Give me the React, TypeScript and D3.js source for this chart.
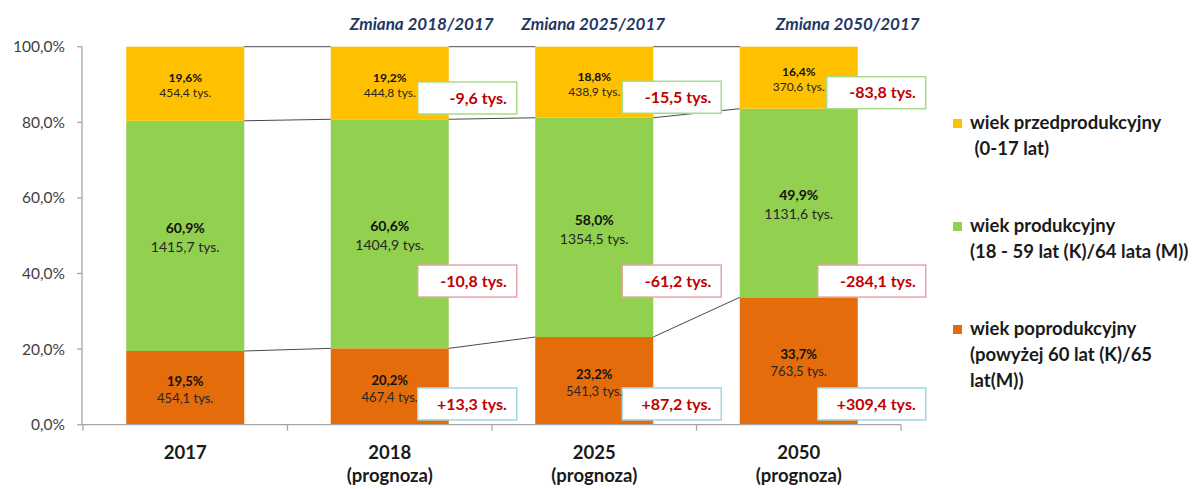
import React from "react";
import * as d3 from "d3";

const categories = ["2017", "2018", "2025", "2050"];
const subLabels = ["", "(prognoza)", "(prognoza)", "(prognoza)"];
const headers = ["", "Zmiana 2018/2017", "Zmiana 2025/2017", "Zmiana 2050/2017"];

// percentages (bottom -> top)
const postProdPct = [19.5, 20.2, 23.2, 33.7];
const prodPct = [60.9, 60.6, 58.0, 49.9];
const preProdPct = [19.6, 19.2, 18.8, 16.4];

// thousands of people
const postProdThous = [454.1, 467.4, 541.3, 763.5];
const prodThous = [1415.7, 1404.9, 1354.5, 1131.6];
const preProdThous = [454.4, 444.8, 438.9, 370.6];

// change vs 2017 (thousands)
const postProdChange = [null, 13.3, 87.2, 309.4];
const prodChange = [null, -10.8, -61.2, -284.1];
const preProdChange = [null, -9.6, -15.5, -83.8];

const yTicks = [0, 20, 40, 60, 80, 100];

const legendLines = [
  ["wiek przedprodukcyjny", " (0-17 lat)"],
  ["wiek produkcyjny", "(18 - 59 lat (K)/64 lata (M))"],
  ["wiek poprodukcyjny", "(powyżej 60 lat (K)/65", "lat(M))"],
];

const W = 1204;
const H = 489;
const FONT = "Lato, 'Open Sans', sans-serif";

const COLORS = { post: "#e46c0a", prod: "#92d050", pre: "#ffc000" };
const BORDERS = { post: "#9fd9e8", prod: "#e6a3a8", pre: "#a9dc85" };
const headerDx = [0, 32, -1, 49];

const fmt1 = (v: number) => d3.format(".1f")(v).replace(".", ",");
const fmtChange = (v: number) => (v > 0 ? "+" : "") + fmt1(v).replace("−", "-") + " tys.";

export default function App() {
  const x = d3
    .scaleBand<string>()
    .domain(categories)
    .range([83, 901])
    .paddingInner(0.423)
    .paddingOuter(0.2115);
  const y = d3.scaleLinear().domain([0, 100]).range([424.7, 46.7]);
  const bw = x.bandwidth();
  const step = x.step();

  const series = [
    { key: "post", pct: postProdPct, thous: postProdThous, change: postProdChange, fs: 13, gap: 17 },
    { key: "prod", pct: prodPct, thous: prodThous, change: prodChange, fs: 14, gap: 19 },
    { key: "pre", pct: preProdPct, thous: preProdThous, change: preProdChange, fs: 12, gap: 15 },
  ] as const;

  const stackRows = categories.map((c, i) => ({
    cat: c,
    post: postProdPct[i],
    prod: prodPct[i],
    pre: preProdPct[i],
  }));
  const stacked = d3.stack<any>().keys(["post", "prod", "pre"])(stackRows);

  const boxCenterY: Record<string, (i: number) => number> = {
    post: () => y(5.5),
    prod: () => y(38),
    pre: (i) => (y(stacked[2][i][0]) + y(stacked[2][i][1])) / 2 + 15,
  };

  return (
    <div style={{ position: "fixed", left: 0, top: 0 }}>
      <svg width={W} height={H} style={{ display: "block", background: "#fff" }} fontFamily={FONT}>
        {/* bars */}
        {stacked.map((s, si) =>
          s.map((d, i) => (
            <rect
              key={`${si}-${i}`}
              x={x(categories[i])!}
              y={y(d[1])}
              width={bw}
              height={y(d[0]) - y(d[1])}
              fill={(COLORS as any)[s.key]}
            />
          ))
        )}

        {/* series lines */}
        {stacked.map((s, si) =>
          s.slice(0, -1).map((d, i) => (
            <line
              key={`sl-${si}-${i}`}
              x1={x(categories[i])! + bw}
              y1={y(d[1])}
              x2={x(categories[i + 1])!}
              y2={y(s[i + 1][1])}
              stroke="#4a4a4a"
              strokeWidth={1}
            />
          ))
        )}

        {/* axes */}
        <line x1={82} x2={82} y1={y(100)} y2={y(0)} stroke="#a6a6a6" strokeWidth={1.3} />
        <line x1={82} x2={901} y1={y(0)} y2={y(0)} stroke="#a6a6a6" strokeWidth={1.3} />
        {yTicks.map((t) => (
          <g key={t}>
            <line x1={77} x2={82} y1={y(t)} y2={y(t)} stroke="#a6a6a6" strokeWidth={1.3} />
            <text x={65} y={y(t)} dy="0.35em" textAnchor="end" fontSize={15.5} fill="#404040">
              {fmt1(t) + "%"}
            </text>
          </g>
        ))}
        {d3.range(categories.length + 1).map((k) => {
          const xx = 83 + k * step;
          return <line key={k} x1={xx} x2={xx} y1={y(0)} y2={y(0) + 6} stroke="#a6a6a6" strokeWidth={1.3} />;
        })}
        {categories.map((c, i) => (
          <g key={c}>
            <text x={x(c)! + bw / 2} y={459} textAnchor="middle" fontSize={18.5} fontWeight="bold" fill="#1a1a1a">
              {c}
            </text>
            {subLabels[i] && (
              <text x={x(c)! + bw / 2} y={482} textAnchor="middle" fontSize={18.5} fontWeight="bold" fill="#1a1a1a">
                {subLabels[i]}
              </text>
            )}
          </g>
        ))}

        {/* headers */}
        {categories.map((c, i) =>
          headers[i] ? (
            <text
              key={`h-${c}`}
              x={x(c)! + bw / 2 + headerDx[i]}
              y={30}
              textAnchor="middle"
              fontSize={17}
              fontWeight="bold"
              fontStyle="italic"
              fill="#1f3864"
            >
              {headers[i]}
            </text>
          ) : null
        )}

        {/* segment labels */}
        {series.map((s, si) =>
          categories.map((c, i) => {
            const d = stacked[si][i];
            const mid = (y(d[0]) + y(d[1])) / 2;
            const cx = x(c)! + bw / 2;
            return (
              <g key={`lab-${si}-${i}`}>
                <text x={cx} y={mid - s.gap / 2 + 2} dy="0.35em" textAnchor="middle" fontSize={s.fs} fontWeight="bold" fill="#111">
                  {fmt1(s.pct[i]) + "%"}
                </text>
                <text x={cx} y={mid + s.gap / 2 + 2} dy="0.35em" textAnchor="middle" fontSize={s.fs} fill="#262626">
                  {fmt1(s.thous[i]) + " tys."}
                </text>
              </g>
            );
          })
        )}

        {/* change boxes */}
        {series.map((s, si) =>
          categories.map((c, i) => {
            const v = s.change[i];
            if (v == null) return null;
            const label = fmtChange(v);
            const w = label.length > 10 ? 108 : 99;
            const right = x(c)! + bw + 68;
            const cy = boxCenterY[s.key](i);
            return (
              <g key={`box-${si}-${i}`}>
                <rect
                  x={right - w}
                  y={cy - 16}
                  width={w}
                  height={32}
                  fill="#fff"
                  stroke={(BORDERS as any)[s.key]}
                  strokeWidth={1.5}
                />
                <text x={right - 10} y={cy} dy="0.36em" textAnchor="end" fontSize={16} fontWeight="bold" fill="#c00000">
                  {label}
                </text>
              </g>
            );
          })
        )}

        {/* legend */}
        {legendLines.map((lines, li) => {
          const key = ["pre", "prod", "post"][li];
          const baseY = 129 + li * 103;
          return (
            <g key={`lg-${li}`}>
              <rect x={953} y={baseY - 10} width={9} height={9} fill={(COLORS as any)[key]} />
              {lines.map((t, k) => (
                <text
                  key={k}
                  x={970}
                  y={baseY + k * 26}
                  fontSize={18.5}
                  fontWeight="bold"
                  fill="#1a1a1a"
                  style={{ whiteSpace: "pre" }}
                >
                  {t}
                </text>
              ))}
            </g>
          );
        })}
      </svg>
    </div>
  );
}
